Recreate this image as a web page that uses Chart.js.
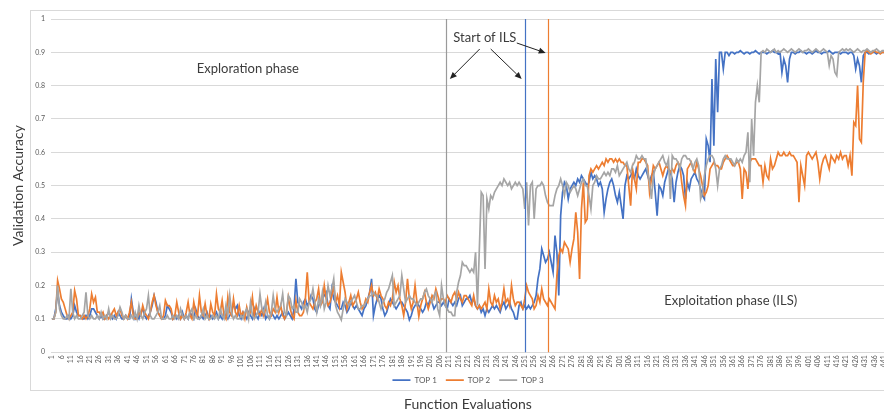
<!DOCTYPE html>
<html>
<head>
<meta charset="utf-8">
<title>Validation accuracy per function evaluation</title>
<script src="https://cdn.jsdelivr.net/npm/chart.js@4.4.1/dist/chart.umd.min.js"></script>
<style>
  html, body { margin: 0; padding: 0; background: #fff; overflow: hidden; }
  canvas { display: block; }
</style>
</head>
<body>
<canvas id="accChart" width="956" height="413"></canvas>
<script>
// function evaluation numbers 1..441
const evaluations = Array.from({ length: 441 }, (_, i) => String(i + 1));

const top1 = [
  0.10, 0.10, 0.13, 0.18, 0.14, 0.12, 0.11, 0.10, 0.10, 0.11,
  0.10, 0.11, 0.14, 0.12, 0.11, 0.11, 0.10, 0.10, 0.11, 0.10,
  0.11, 0.13, 0.13, 0.12, 0.11, 0.10, 0.11, 0.10, 0.10, 0.11,
  0.12, 0.11, 0.10, 0.11, 0.10, 0.12, 0.11, 0.10, 0.10, 0.11,
  0.10, 0.10, 0.16, 0.12, 0.10, 0.11, 0.10, 0.12, 0.13, 0.11,
  0.10, 0.11, 0.12, 0.14, 0.17, 0.15, 0.12, 0.11, 0.10, 0.10,
  0.11, 0.14, 0.13, 0.12, 0.10, 0.11, 0.10, 0.11, 0.10, 0.12,
  0.10, 0.11, 0.10, 0.12, 0.11, 0.10, 0.13, 0.11, 0.10, 0.11,
  0.10, 0.11, 0.12, 0.10, 0.11, 0.10, 0.11, 0.12, 0.10, 0.11,
  0.10, 0.12, 0.11, 0.10, 0.11, 0.12, 0.145, 0.13, 0.14, 0.11,
  0.10, 0.12, 0.11, 0.10, 0.12, 0.11, 0.10, 0.13, 0.11, 0.10,
  0.12, 0.11, 0.13, 0.10, 0.11, 0.10, 0.12, 0.11, 0.10, 0.11,
  0.10, 0.11, 0.12, 0.10, 0.11, 0.12, 0.11, 0.10, 0.13, 0.22,
  0.15, 0.14, 0.13, 0.15, 0.16, 0.14, 0.15, 0.17, 0.16, 0.13,
  0.12, 0.14, 0.15, 0.16, 0.17, 0.18, 0.14, 0.13, 0.19, 0.16,
  0.15, 0.14, 0.13, 0.13, 0.15, 0.14, 0.12, 0.13, 0.15, 0.14,
  0.13, 0.14, 0.13, 0.12, 0.11, 0.13, 0.14, 0.16, 0.18, 0.22,
  0.11, 0.14, 0.16, 0.17, 0.16, 0.13, 0.11, 0.12, 0.14, 0.16,
  0.15, 0.14, 0.13, 0.14, 0.15, 0.15, 0.14, 0.13, 0.12, 0.097,
  0.11, 0.13, 0.14, 0.15, 0.14, 0.13, 0.12, 0.13, 0.15, 0.14,
  0.16, 0.15, 0.13, 0.14, 0.15, 0.15, 0.14, 0.15, 0.14, 0.13,
  0.16, 0.15, 0.14, 0.15, 0.14, 0.16, 0.17, 0.14, 0.15, 0.16,
  0.16, 0.17, 0.15, 0.16, 0.14, 0.13, 0.14, 0.12, 0.13, 0.11,
  0.13, 0.12, 0.13, 0.14, 0.13, 0.14, 0.13, 0.12, 0.14, 0.15,
  0.13, 0.14, 0.15, 0.13, 0.12, 0.10, 0.10, 0.14, 0.15, 0.13,
  0.14, 0.13, 0.14, 0.13, 0.14, 0.15, 0.17, 0.22, 0.25, 0.31,
  0.29, 0.27, 0.28, 0.30, 0.27, 0.24, 0.35, 0.30, 0.17, 0.41,
  0.48, 0.51, 0.50, 0.46, 0.49, 0.50, 0.51, 0.50, 0.52, 0.51,
  0.53, 0.52, 0.51, 0.50, 0.51, 0.54, 0.52, 0.53, 0.52, 0.50,
  0.51, 0.49, 0.42, 0.46, 0.49, 0.51, 0.52, 0.50, 0.47, 0.45,
  0.48, 0.44, 0.40, 0.50, 0.53, 0.52, 0.53, 0.54, 0.52, 0.55,
  0.53, 0.52, 0.53, 0.54, 0.55, 0.53, 0.51, 0.53, 0.54, 0.48,
  0.41, 0.50, 0.49, 0.47, 0.51, 0.53, 0.55, 0.54, 0.52, 0.45,
  0.51, 0.54, 0.56, 0.55, 0.53, 0.46, 0.51, 0.49, 0.52, 0.53,
  0.54, 0.52, 0.51, 0.49, 0.47, 0.46, 0.64, 0.62, 0.57, 0.82,
  0.62, 0.88, 0.72, 0.90, 0.90, 0.85, 0.90, 0.90, 0.89, 0.90,
  0.90, 0.895, 0.90, 0.90, 0.905, 0.90, 0.895, 0.90, 0.90, 0.895,
  0.90, 0.90, 0.905, 0.90, 0.895, 0.90, 0.90, 0.90, 0.895, 0.90,
  0.90, 0.905, 0.90, 0.90, 0.895, 0.90, 0.84, 0.88, 0.86, 0.81,
  0.88, 0.90, 0.90, 0.895, 0.90, 0.90, 0.905, 0.90, 0.90, 0.895,
  0.90, 0.90, 0.895, 0.90, 0.905, 0.90, 0.90, 0.895, 0.90, 0.90,
  0.90, 0.905, 0.90, 0.895, 0.90, 0.90, 0.90, 0.895, 0.90, 0.90,
  0.90, 0.895, 0.90, 0.90, 0.89, 0.85, 0.88, 0.86, 0.81, 0.89,
  0.90, 0.90, 0.895, 0.90, 0.90, 0.90, 0.895, 0.90, 0.90, 0.90, 0.90
];

const top2 = [
  0.10, 0.10, 0.12, 0.215, 0.19, 0.16, 0.15, 0.13, 0.11, 0.10,
  0.11, 0.12, 0.185, 0.16, 0.11, 0.11, 0.10, 0.11, 0.10, 0.11,
  0.13, 0.175, 0.15, 0.165, 0.12, 0.12, 0.11, 0.12, 0.10, 0.11,
  0.10, 0.11, 0.12, 0.13, 0.11, 0.12, 0.13, 0.11, 0.10, 0.11,
  0.10, 0.12, 0.15, 0.11, 0.10, 0.10, 0.12, 0.11, 0.14, 0.12,
  0.11, 0.10, 0.12, 0.15, 0.17, 0.14, 0.12, 0.11, 0.10, 0.11,
  0.155, 0.14, 0.14, 0.13, 0.10, 0.11, 0.15, 0.12, 0.10, 0.11,
  0.10, 0.12, 0.15, 0.11, 0.10, 0.15, 0.12, 0.11, 0.17, 0.12,
  0.11, 0.145, 0.11, 0.10, 0.145, 0.12, 0.11, 0.175, 0.13, 0.12,
  0.155, 0.11, 0.10, 0.165, 0.12, 0.11, 0.16, 0.12, 0.11, 0.14,
  0.11, 0.12, 0.10, 0.135, 0.11, 0.12, 0.165, 0.11, 0.14, 0.12,
  0.11, 0.13, 0.11, 0.13, 0.16, 0.12, 0.11, 0.13, 0.12, 0.165,
  0.12, 0.14, 0.11, 0.10, 0.12, 0.165, 0.13, 0.11, 0.10, 0.155,
  0.12, 0.11, 0.11, 0.12, 0.16, 0.24, 0.15, 0.14, 0.13, 0.15,
  0.16, 0.19, 0.14, 0.15, 0.20, 0.16, 0.14, 0.15, 0.17, 0.20,
  0.15, 0.17, 0.14, 0.24, 0.21, 0.18, 0.13, 0.15, 0.17, 0.14,
  0.15, 0.16, 0.18, 0.15, 0.13, 0.14, 0.16, 0.15, 0.18, 0.20,
  0.17, 0.18, 0.16, 0.19, 0.17, 0.16, 0.14, 0.13, 0.15, 0.14,
  0.16, 0.21, 0.18, 0.20, 0.16, 0.14, 0.11, 0.15, 0.22, 0.16,
  0.13, 0.15, 0.20, 0.15, 0.107, 0.14, 0.16, 0.18, 0.15, 0.13,
  0.15, 0.17, 0.16, 0.19, 0.17, 0.15, 0.16, 0.16, 0.15, 0.17,
  0.16, 0.15, 0.17, 0.18, 0.16, 0.18, 0.16, 0.15, 0.17, 0.17,
  0.16, 0.15, 0.14, 0.17, 0.14, 0.13, 0.14, 0.13, 0.14, 0.15,
  0.13, 0.19, 0.15, 0.14, 0.17, 0.15, 0.16, 0.13, 0.15, 0.19,
  0.15, 0.16, 0.14, 0.20, 0.16, 0.14, 0.15, 0.15, 0.14, 0.13,
  0.16, 0.20, 0.18, 0.17, 0.16, 0.13, 0.14, 0.17, 0.15, 0.19,
  0.16, 0.15, 0.14, 0.16, 0.15, 0.14, 0.13, 0.23, 0.29, 0.31,
  0.30, 0.33, 0.32, 0.31, 0.27, 0.31, 0.34, 0.42, 0.36, 0.22,
  0.43, 0.51, 0.39, 0.40, 0.53, 0.55, 0.54, 0.55, 0.56, 0.55,
  0.56, 0.57, 0.56, 0.58, 0.57, 0.58, 0.58, 0.57, 0.58, 0.57,
  0.58, 0.57, 0.57, 0.56, 0.56, 0.50, 0.44, 0.55, 0.52, 0.49,
  0.57, 0.57, 0.58, 0.58, 0.57, 0.56, 0.48, 0.52, 0.56, 0.55,
  0.56, 0.57, 0.55, 0.53, 0.55, 0.56, 0.55, 0.54, 0.55, 0.54,
  0.56, 0.57, 0.56, 0.51, 0.47, 0.44, 0.55, 0.56, 0.57, 0.55,
  0.54, 0.57, 0.55, 0.53, 0.50, 0.47, 0.48, 0.50, 0.55, 0.56,
  0.57, 0.56, 0.56, 0.55, 0.55, 0.57, 0.58, 0.59, 0.58, 0.57,
  0.56, 0.56, 0.57, 0.57, 0.55, 0.46, 0.55, 0.54, 0.49, 0.57,
  0.58, 0.58, 0.58, 0.57, 0.56, 0.56, 0.51, 0.56, 0.53, 0.52,
  0.58, 0.55, 0.56, 0.58, 0.60, 0.59, 0.59, 0.60, 0.59, 0.59,
  0.60, 0.59, 0.59, 0.58, 0.57, 0.45, 0.56, 0.53, 0.50, 0.59,
  0.60, 0.59, 0.58, 0.59, 0.60, 0.57, 0.52, 0.56, 0.58, 0.59,
  0.57, 0.55, 0.59, 0.58, 0.57, 0.59, 0.58, 0.60, 0.58, 0.59,
  0.59, 0.56, 0.59, 0.53, 0.69, 0.68, 0.80, 0.64, 0.63, 0.81,
  0.90, 0.905, 0.90, 0.895, 0.90, 0.905, 0.90, 0.90, 0.895, 0.90, 0.90
];

const top3 = [
  0.10, 0.10, 0.12, 0.20, 0.13, 0.11, 0.10, 0.10, 0.11, 0.10,
  0.19, 0.12, 0.10, 0.11, 0.10, 0.10, 0.11, 0.12, 0.18, 0.11,
  0.10, 0.11, 0.10, 0.10, 0.11, 0.10, 0.12, 0.10, 0.11, 0.10,
  0.13, 0.10, 0.11, 0.10, 0.10, 0.11, 0.135, 0.12, 0.10, 0.11,
  0.10, 0.10, 0.11, 0.10, 0.12, 0.10, 0.14, 0.11, 0.10, 0.12,
  0.13, 0.17, 0.11, 0.10, 0.10, 0.11, 0.12, 0.14, 0.10, 0.10,
  0.10, 0.11, 0.10, 0.10, 0.11, 0.10, 0.11, 0.10, 0.13, 0.11,
  0.10, 0.11, 0.10, 0.12, 0.13, 0.10, 0.11, 0.10, 0.10, 0.11,
  0.13, 0.10, 0.11, 0.10, 0.10, 0.11, 0.10, 0.11, 0.10, 0.13,
  0.11, 0.10, 0.14, 0.11, 0.17, 0.12, 0.10, 0.11, 0.10, 0.10,
  0.11, 0.10, 0.12, 0.13, 0.10, 0.15, 0.11, 0.10, 0.11, 0.12,
  0.175, 0.13, 0.12, 0.15, 0.11, 0.10, 0.12, 0.17, 0.13, 0.12,
  0.13, 0.14, 0.175, 0.12, 0.11, 0.17, 0.16, 0.13, 0.14, 0.12,
  0.12, 0.16, 0.15, 0.13, 0.14, 0.12, 0.15, 0.16, 0.19, 0.15,
  0.12, 0.16, 0.14, 0.18, 0.13, 0.15, 0.20, 0.17, 0.19, 0.22,
  0.14, 0.12, 0.11, 0.097, 0.13, 0.16, 0.15, 0.14, 0.15, 0.16,
  0.17, 0.15, 0.13, 0.13, 0.14, 0.14, 0.15, 0.16, 0.17, 0.17,
  0.18, 0.17, 0.17, 0.15, 0.13, 0.15, 0.16, 0.18, 0.19, 0.21,
  0.23, 0.14, 0.15, 0.16, 0.17, 0.23, 0.19, 0.15, 0.16, 0.17,
  0.16, 0.16, 0.15, 0.14, 0.15, 0.16, 0.16, 0.18, 0.19, 0.17,
  0.16, 0.15, 0.17, 0.18, 0.13, 0.11, 0.20, 0.16, 0.14, 0.13,
  0.12, 0.12, 0.11, 0.11, 0.18, 0.21, 0.23, 0.27, 0.26, 0.26,
  0.25, 0.24, 0.25, 0.24, 0.30, 0.14, 0.31, 0.48, 0.47, 0.25,
  0.46, 0.43, 0.47, 0.46, 0.48, 0.49, 0.50, 0.51, 0.50, 0.52,
  0.51, 0.50, 0.51, 0.49, 0.50, 0.51, 0.50, 0.51, 0.50, 0.49,
  0.43, 0.51, 0.38, 0.50, 0.51, 0.40, 0.49, 0.50, 0.50, 0.51,
  0.50, 0.47, 0.45, 0.44, 0.44, 0.44, 0.47, 0.49, 0.50, 0.52,
  0.50, 0.47, 0.51, 0.50, 0.48, 0.49, 0.50, 0.49, 0.47, 0.49,
  0.51, 0.52, 0.50, 0.50, 0.47, 0.43, 0.50, 0.51, 0.53, 0.52,
  0.52, 0.53, 0.54, 0.53, 0.54, 0.53, 0.55, 0.55, 0.54, 0.56,
  0.53, 0.54, 0.55, 0.56, 0.57, 0.55, 0.54, 0.56, 0.57, 0.59,
  0.58, 0.58, 0.59, 0.58, 0.58, 0.54, 0.51, 0.46, 0.53, 0.55,
  0.56, 0.57, 0.58, 0.59, 0.57, 0.56, 0.58, 0.46, 0.59, 0.58,
  0.58, 0.57, 0.55, 0.58, 0.59, 0.59, 0.58, 0.58, 0.57, 0.55,
  0.57, 0.58, 0.56, 0.46, 0.48, 0.53, 0.56, 0.58, 0.59, 0.59,
  0.58, 0.55, 0.50, 0.55, 0.56, 0.58, 0.59, 0.58, 0.58, 0.58,
  0.57, 0.56, 0.58, 0.57, 0.58, 0.57, 0.59, 0.60, 0.66, 0.51,
  0.70, 0.59, 0.75, 0.80, 0.75, 0.90, 0.905, 0.90, 0.91, 0.905,
  0.90, 0.905, 0.91, 0.90, 0.905, 0.90, 0.905, 0.91, 0.905, 0.90,
  0.905, 0.91, 0.905, 0.90, 0.905, 0.91, 0.905, 0.90, 0.905, 0.905,
  0.91, 0.905, 0.90, 0.905, 0.91, 0.905, 0.90, 0.905, 0.91, 0.905,
  0.90, 0.86, 0.89, 0.88, 0.84, 0.83, 0.90, 0.905, 0.91, 0.905,
  0.91, 0.905, 0.91, 0.905, 0.90, 0.905, 0.91, 0.905, 0.90, 0.905,
  0.905, 0.91, 0.905, 0.90, 0.905, 0.905, 0.91, 0.905, 0.90, 0.905, 0.905
];

const seriesNames = ["TOP 1", "TOP 2", "TOP 3"];
const seriesColors = ["#4472C4", "#ED7D31", "#A5A5A5"];

// evaluation at which each run switched to ILS (marker lines)
const ilsStart = [251, 263.3, 209.4];
const ilsColors = ["#4472C4", "#ED7D31", "#9a9a9a"];

// text notes placed in data coordinates: [evaluation, accuracy]
const notes = [
  { text: "Exploration phase", at: [104.6, 0.85] },
  { text: "Start of ILS", at: [229.9, 0.945] },
  { text: "Exploitation phase (ILS)", at: [359.9, 0.153] }
];
const arrows = [
  { from: [227.2, 0.91], to: [211.4, 0.82] },
  { from: [233.0, 0.91], to: [249.4, 0.82] },
  { from: [246.8, 0.928], to: [262.1, 0.898] }
];

const FONT = "Lato, 'Open Sans', sans-serif";

// position along the category axis, allowing fractional evaluation numbers
function xAt(scale, evalNo) {
  const p0 = scale.getPixelForValue(0);
  const step = scale.getPixelForValue(1) - p0;
  return p0 + (evalNo - 1) * step;
}

const frame = {
  id: "frame",
  beforeDraw(chart) {
    const ctx = chart.ctx;
    ctx.save();
    ctx.strokeStyle = "#d9d9d9";
    ctx.lineWidth = 1;
    ctx.strokeRect(30.5, 10.5, chart.width, 380);
    ctx.restore();
  }
};

const ilsMarks = {
  id: "ilsMarks",
  afterDatasetsDraw(chart) {
    const { ctx, chartArea } = chart;
    const xs = chart.scales.x, ys = chart.scales.y;
    ctx.save();

    ilsStart.forEach((ev, k) => {
      const x = Math.round(xAt(xs, ev)) + 0.5;
      ctx.strokeStyle = ilsColors[k];
      ctx.lineWidth = 1.2;
      ctx.beginPath();
      ctx.moveTo(x, chartArea.top);
      ctx.lineTo(x, chartArea.bottom);
      ctx.stroke();
    });

    ctx.fillStyle = "#3b3b3b";
    ctx.font = "13px " + FONT;
    ctx.textAlign = "center";
    ctx.textBaseline = "middle";
    notes.forEach(n => {
      ctx.fillText(n.text, xAt(xs, n.at[0]), ys.getPixelForValue(n.at[1]));
    });

    ctx.strokeStyle = "#222";
    ctx.fillStyle = "#222";
    ctx.lineWidth = 1;
    arrows.forEach(a => {
      const x1 = xAt(xs, a.from[0]), y1 = ys.getPixelForValue(a.from[1]);
      const x2 = xAt(xs, a.to[0]), y2 = ys.getPixelForValue(a.to[1]);
      const ang = Math.atan2(y2 - y1, x2 - x1);
      const len = 7, half = 3;
      const bx = x2 - len * Math.cos(ang), by = y2 - len * Math.sin(ang);
      ctx.beginPath();
      ctx.moveTo(x1, y1);
      ctx.lineTo(bx, by);
      ctx.stroke();
      ctx.beginPath();
      ctx.moveTo(x2, y2);
      ctx.lineTo(bx + half * Math.sin(ang), by - half * Math.cos(ang));
      ctx.lineTo(bx - half * Math.sin(ang), by + half * Math.cos(ang));
      ctx.closePath();
      ctx.fill();
    });
    ctx.restore();
  }
};

const seriesData = [top1, top2, top3];

new Chart(document.getElementById("accChart"), {
  type: "line",
  data: {
    labels: evaluations,
    datasets: seriesData.map((vals, k) => ({
      label: seriesNames[k],
      data: vals,
      borderColor: seriesColors[k],
      backgroundColor: seriesColors[k],
      borderWidth: 1.7,
      pointRadius: 0,
      tension: 0,
      order: 3 - k
    }))
  },
  options: {
    responsive: false,
    animation: false,
    layout: { padding: { left: 10, top: 19, right: 71, bottom: 0 } },
    plugins: {
      tooltip: { enabled: false },
      legend: {
        position: "bottom",
        fullSize: false,
        labels: {
          usePointStyle: true,
          pointStyle: "line",
          pointStyleWidth: 18,
          boxHeight: 7,
          padding: 9,
          color: "#595959",
          font: { family: FONT, size: 8 },
          sort: (a, b) => a.datasetIndex - b.datasetIndex
        }
      },
      title: {
        display: true,
        position: "bottom",
        fullSize: false,
        text: "Function Evaluations",
        color: "#3b3b3b",
        font: { family: FONT, size: 14, weight: "normal" },
        padding: { top: 2, bottom: 0 }
      }
    },
    scales: {
      x: {
        type: "category",
        offset: true,
        grid: { display: false, drawTicks: false },
        border: { display: false },
        afterFit: s => { s.height = 15; },
        ticks: {
          autoSkip: false,
          minRotation: 90,
          maxRotation: 90,
          padding: 3,
          color: "#595959",
          font: { family: FONT, size: 7 },
          callback: function (value, index) {
            return index % 5 === 0 ? this.getLabelForValue(value) : "";
          }
        }
      },
      y: {
        min: 0,
        max: 1,
        grid: { color: "#d9d9d9", lineWidth: 1, drawTicks: false },
        border: { display: false },
        afterFit: s => { s.width = 41; },
        ticks: {
          stepSize: 0.1,
          padding: 6,
          color: "#595959",
          font: { family: FONT, size: 7 },
          callback: v => String(Number(v.toFixed(1)))
        },
        title: {
          display: true,
          text: "Validation Accuracy",
          color: "#3b3b3b",
          font: { family: FONT, size: 14 },
          padding: { top: 0, bottom: 0 }
        }
      }
    }
  },
  plugins: [frame, ilsMarks]
});
</script>
</body>
</html>
